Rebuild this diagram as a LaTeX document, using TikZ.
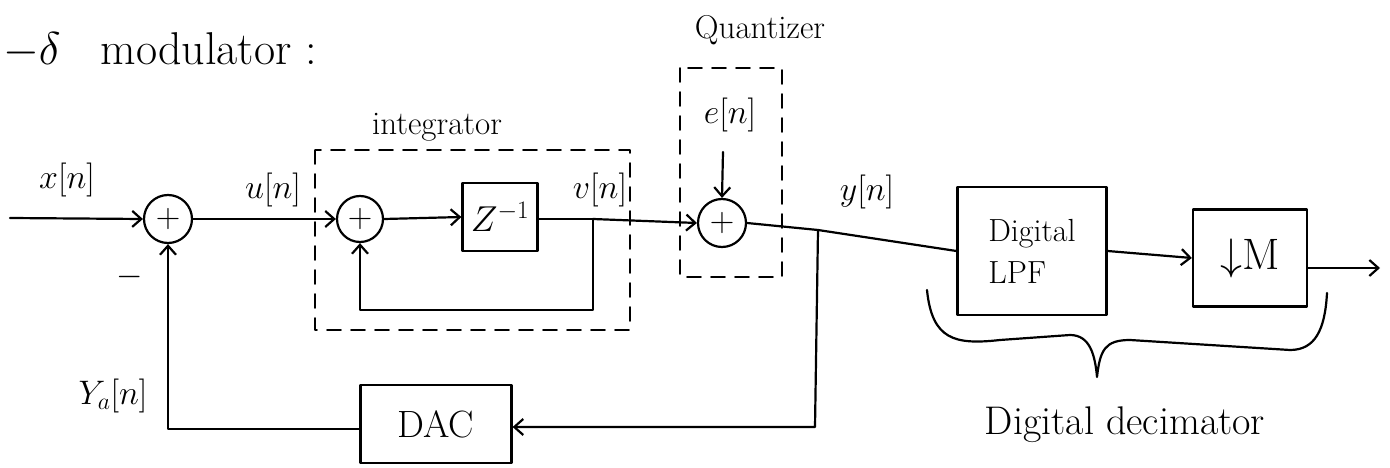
\RequirePackage{fix-cm}
\documentclass[tikz,border=0pt]{standalone}
\usetikzlibrary{arrows.meta}
\begin{document}
\begin{tikzpicture}[x=1pt,y=-1pt,
  every path/.style={line width=2.2pt, line cap=round, line join=round},
  >={Straight Barb[length=9pt,width=16pt]},
  sumnode/.style={circle, draw, minimum size=48pt, inner sep=0pt, font=\fontsize{34}{38}\selectfont},
  blockbox/.style={draw, inner sep=0pt, font=\fontsize{32}{36}\selectfont},
  lbl/.style={font=\fontsize{33}{38}\selectfont, inner sep=0pt},
  mlbl/.style={font=\fontsize{34}{38}\selectfont, inner sep=0pt},
  groupbox/.style={draw, dashed, dash pattern=on 14pt off 10pt, line width=1.6pt}]
\useasboundingbox (0,0) rectangle (1390,468);

% title
\node[lbl, font=\fontsize{46}{50}\selectfont, anchor=west] (title) at (2,50) {$-\delta$\hspace{40pt}modulator :};

% group boxes
\draw[groupbox] (315,150) rectangle (630,330);
\draw[groupbox] (680,68) rectangle (782,277);
\node[lbl] (intlbl) at (437,127) {integrator};
\node[lbl] (qlbl) at (760,30) {Quantizer};

% nodes
\node[sumnode] (s1) at (168,219) {$+$};
\node[sumnode, minimum size=46pt] (s2) at (360,219) {$+$};
\node[blockbox, minimum width=75pt, minimum height=68pt, font=\fontsize{36}{40}\selectfont] (z) at (500,217) {$Z^{-1}$};
\node[sumnode] (s3) at (722,223) {$+$};
\node[blockbox, minimum width=149pt, minimum height=128pt, align=left] (lpf) at (1032,251) {Digital\\[6pt]LPF};
\node[blockbox, minimum width=114pt, minimum height=97pt, font=\fontsize{44}{48}\selectfont] (dm) at (1250,258) {$\downarrow$M};
\node[blockbox, minimum width=151pt, minimum height=78pt, font=\fontsize{38}{42}\selectfont] (dac) at (436,424) {DAC};

% labels
\node[mlbl] (xl) at (67,180) {$x[n]$};
\node[mlbl] (ul) at (273,190) {$u[n]$};
\node[mlbl] (vl) at (600,190) {$v[n]$};
\node[mlbl] (yl) at (867,192) {$y[n]$};
\node[mlbl] (yal) at (113,396) {$Y_a[n]$};
\node[mlbl] (minus) at (130,277) {$-$};
\node[mlbl] (en) at (730,115) {$e[n]$};
\node[lbl, font=\fontsize{40}{44}\selectfont] (declbl) at (1125,425) {Digital decimator};

% coordinates
\coordinate (in) at (10,218);
\coordinate (br1) at (593,219);
\coordinate (fb1) at (593,310);
\coordinate (j) at (818,230);
\coordinate (c1) at (815,427);
\coordinate (c2) at (168,429);
\coordinate (out) at (1380,268);
\coordinate (eh) at (723,152);

% connectors
\draw[->] (in) -- (s1.west);
\draw[->] (s1.east) -- (s2.west);
\draw[->] (s2.east) -- (z.west);
\draw (z.east |- br1) -- (br1);
\draw[->] (br1) -- (s3.west);
\draw[->] (br1) -- (fb1) -| (s2.south);
\draw[->] (eh) -- (s3.north);
\draw (s3.east) -- (j);
\draw (j) -- (lpf.west);
\draw[->] (j) -- (c1) -- (dac.east |- c1);
\draw[->] (dac.west |- c2) -- (c2) -- (s1.south);
\draw[->] (lpf.east) -- (dm.west);
\draw[->] (dm.east |- out) -- (out);

% brace
\draw (927,290) .. controls (932,340) and (955,345) .. (1000,340)
      -- (1070,335) .. controls (1090,335) and (1095,355) .. (1097,377)
      .. controls (1100,350) and (1105,340) .. (1130,340)
      -- (1290,350) .. controls (1315,350) and (1325,330) .. (1327,293);
\end{tikzpicture}
\end{document}
